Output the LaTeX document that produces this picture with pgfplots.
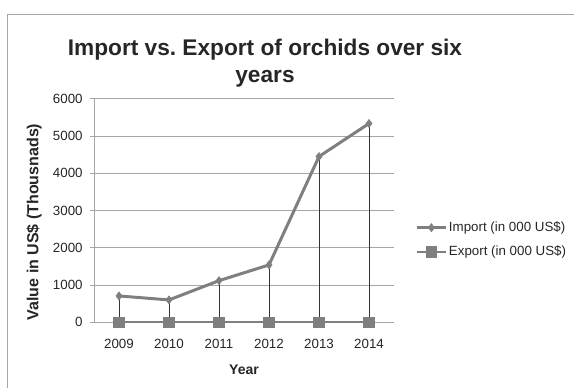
\documentclass[border=0pt]{standalone}
\usepackage{fontspec}
\setmainfont{Liberation Sans}
\usepackage{pgfplots}
\pgfplotsset{compat=1.18}
\definecolor{serie}{HTML}{7F7F7F}
\definecolor{gridc}{HTML}{A6A6A6}
\frenchspacing
\begin{document}
\begin{tikzpicture}[x=0.75pt,y=0.75pt]
\useasboundingbox (0,0) rectangle (574,388);
\draw[gridc, line width=0.75pt] (7.3,-5) -- (7.3,373.5) -- (580,373.5);
\node[font=\fontsize{17}{20}\selectfont\bfseries, align=center, text=black!85] at (265,325) {Import vs. Export of orchids over six\\years};
\begin{axis}[
  at={(70.5pt,49.3pt)}, anchor=south west,
  scale only axis, width=225pt, height=167.5pt,
  xmin=2008.5, xmax=2014.5, ymin=0, ymax=6000,
  xtick={2009,2010,2011,2012,2013,2014},
  ytick={0,1000,2000,3000,4000,5000,6000},
  /pgf/number format/assume math mode=true,
  /pgf/number format/1000 sep={},
  axis lines=left, axis line style={gridc, line width=0.75pt, -},
  ymajorgrids, grid style={gridc, line width=0.75pt},
  tick align=outside,
  xtick style={draw=none},
  ytick style={gridc, line width=0.75pt},
  major tick length=3pt,
  tick label style={font=\fontsize{10}{12}\selectfont, text=black!85},
  yticklabel style={xshift=-2pt},
  xticklabel style={yshift=-6pt},
  xlabel={Year}, ylabel={Value in US\$ (Thousnads)},
  xlabel style={font=\fontsize{10.5}{12}\selectfont\bfseries, text=black!85, at={(axis description cs:0.5,-0.214)}, anchor=center},
  ylabel style={font=\fontsize{12}{14}\selectfont\bfseries, text=black!85, at={(axis description cs:-0.2,0.449)}, anchor=center},
  legend style={draw=none, fill=none, font=\fontsize{10}{12}\selectfont, text=black!85,
    at={(1.07,0.37)}, anchor=west, row sep=7pt, inner sep=0pt,
    nodes={inner sep=1pt}},
  legend cell align=left,
  legend image code/.code={
    \draw[#1] (0pt,0pt) -- (22pt,0pt);
    \draw[#1, mark repeat=2, mark phase=2] plot coordinates {(0pt,0pt) (11pt,0pt) (22pt,0pt)};
  },
]
\addplot[serie, line width=2.25pt, mark=diamond*, mark size=3pt, mark options={solid, fill=serie, line width=0.5pt}]
  coordinates {(2009,707) (2010,600) (2011,1118) (2012,1540) (2013,4452) (2014,5340)};
\addlegendentry{Import (in 000 US\$)}
\addplot[serie, line width=1.5pt, mark=square*, mark size=4pt, mark options={solid, fill=serie, line width=0.5pt}]
  coordinates {(2009,0) (2010,0) (2011,0) (2012,0) (2013,0) (2014,0)};
\addlegendentry{Export (in 000 US\$)}
\addplot[ycomb, black!80, line width=0.6pt, no marks, forget plot]
  coordinates {(2009,707) (2010,600) (2011,1118) (2012,1540) (2013,4452) (2014,5340)};
\end{axis}
\end{tikzpicture}
\end{document}
